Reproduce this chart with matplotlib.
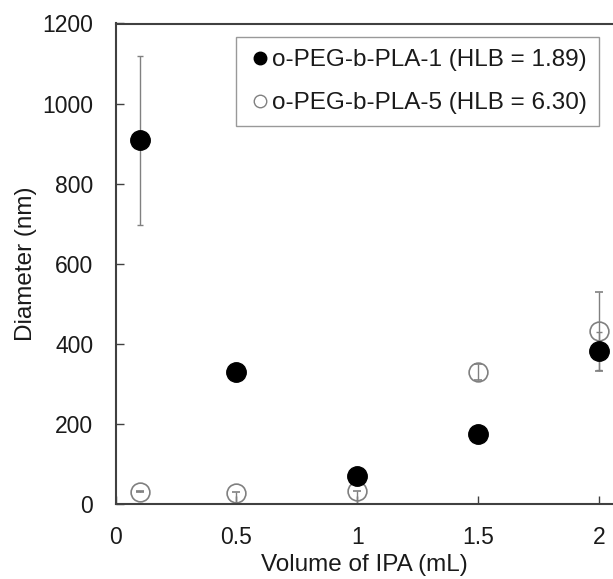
import matplotlib.pyplot as plt
import numpy as np

plt.rcParams['font.family'] = ['Liberation Sans', 'DejaVu Sans']

volume = [0.1, 0.5, 1.0, 1.5, 2.0]
peg1 = [908, 329, 69, 176, 382]
peg1_err = [210, 0, 0, 0, 48]
peg5 = [31, 28, 32, 329, 431]
peg5_err_low = [1.5, 28, 32, 20, 99]
peg5_err_high = [1.5, 1.5, 1.5, 20, 99]
xticks = [0, 0.5, 1, 1.5, 2]
xtick_labels = ['0', '0.5', '1', '1.5', '2']
yticks = [0, 200, 400, 600, 800, 1000, 1200]

fig = plt.figure(figsize=(6.13, 5.79), dpi=100)
ax = fig.add_axes([115.5 / 613, 75 / 579, 497.5 / 613, 480.5 / 579])

ax.errorbar(volume, peg5, yerr=[peg5_err_low, peg5_err_high], fmt='o', ms=13.5, mfc='none',
            mec='#808080', mew=1.2, ecolor='#808080', elinewidth=1, capsize=3, zorder=2)
ax.errorbar(volume, peg1, yerr=peg1_err, fmt='o', ms=14, mfc='black', mec='black',
            ecolor='#808080', elinewidth=1, capsize=2.5, zorder=3)

ax.plot([], [], 'o', ms=9, mfc='black', mec='black', label='o-PEG-b-PLA-1 (HLB = 1.89)')
ax.plot([], [], 'o', ms=9, mfc='white', mec='#808080', label='o-PEG-b-PLA-5 (HLB = 6.30)')

ax.set_xlim(0, 2.058)
ax.set_ylim(0, 1200)
ax.set_xticks(xticks)
ax.set_xticklabels(xtick_labels)
ax.set_yticks(yticks)
ax.tick_params(direction='in', length=6, width=1, colors='#404040', labelsize=16.5,
               labelcolor='#1a1a1a')
ax.tick_params(axis='x', pad=15.5)
ax.tick_params(axis='y', pad=16)
for s in ['left', 'bottom', 'top']:
    ax.spines[s].set_color('#404040')
    ax.spines[s].set_linewidth(1.5)
ax.spines['right'].set_visible(False)

ax.set_xlabel('Volume of IPA (mL)', fontsize=17.5, labelpad=4, color='#1a1a1a')
ax.set_ylabel('Diameter (nm)', fontsize=17.5, labelpad=4, color='#1a1a1a')

leg = ax.legend(loc='upper left', bbox_to_anchor=(120.5 / 497.5, 1 - 13.5 / 480.5), fontsize=17.5,
                frameon=True, fancybox=False, edgecolor='#808080', handlelength=1.0,
                handletextpad=0.0, borderpad=0.5, labelspacing=0.86, borderaxespad=0)
leg.get_frame().set_linewidth(1)
for t in leg.get_texts():
    t.set_color('#1a1a1a')

fig.savefig('out.png', dpi=100)
